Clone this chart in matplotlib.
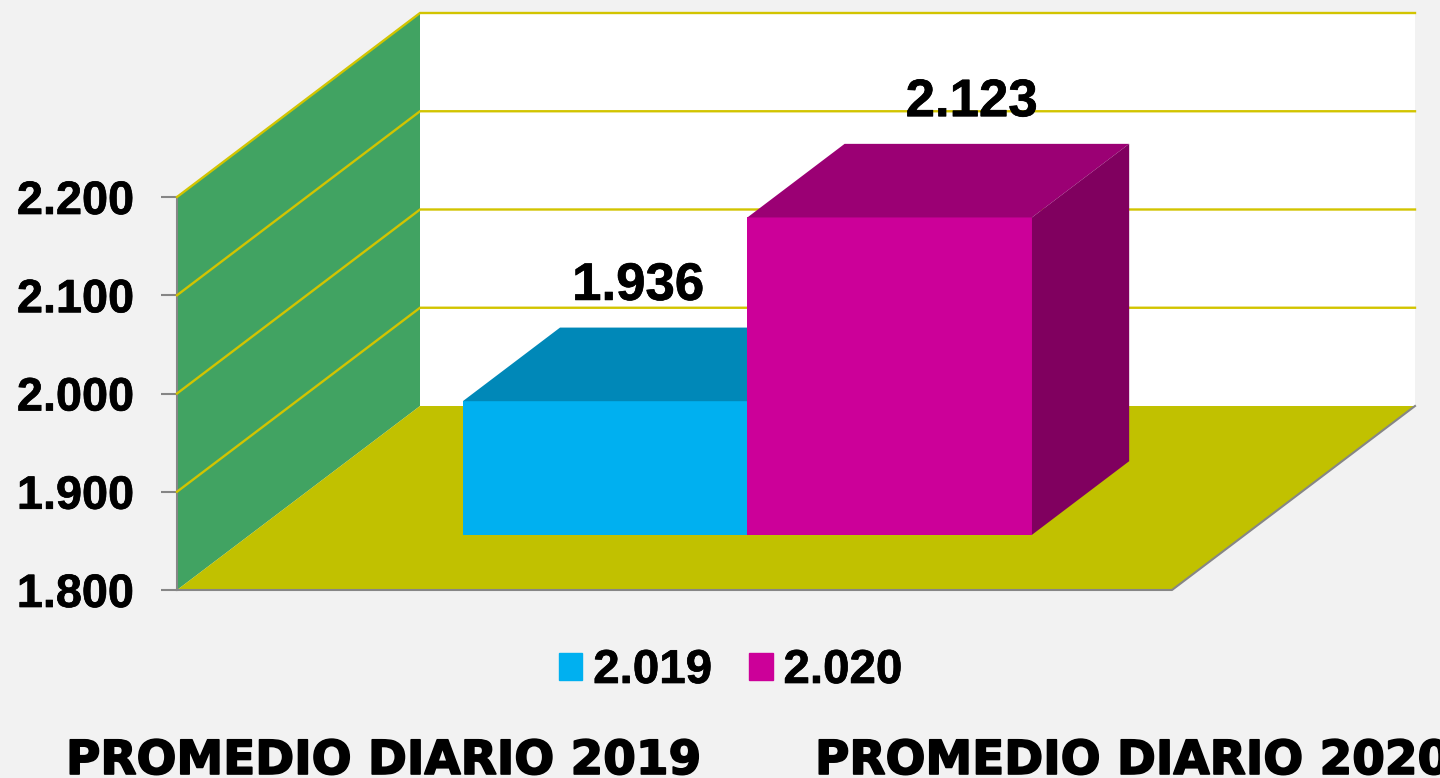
# Promedio diario 2019 vs 2020, barras con aspecto 3D
import matplotlib
matplotlib.use("Agg")
import matplotlib.pyplot as plt
import matplotlib.patheffects as pe
from matplotlib.patches import Polygon, Patch

# Datos
series = ["2.019", "2.020"]
valores = [1936, 2123]
etiquetas = ["1.936", "2.123"]
ticks = [1800, 1900, 2000, 2100, 2200]
ticks_txt = ["1.800", "1.900", "2.000", "2.100", "2.200"]
titulos = ["PROMEDIO DIARIO 2019", "PROMEDIO DIARIO 2020"]

# Colores: frente, tapa, lateral
azul = ("#00B0F0", "#0088B8", "#006E96")
fucsia = ("#CC0099", "#9B0074", "#80005F")
verde = "#41A362"
oliva = "#C1C100"
amarillo = "#D2C400"
gris = "#868686"
fondo = "#F2F2F2"

W, H = 1440, 778
plt.rcParams["font.family"] = ["Liberation Sans", "DejaVu Sans"]
plt.rcParams["font.weight"] = "bold"

fig = plt.figure(figsize=(W / 100, H / 100), dpi=100, facecolor=fondo)
ax = fig.add_axes([177 / W, (H - 590) / H, 995 / W, 393 / H], facecolor="none")
ax.set_xlim(0, 1)
ax.set_ylim(ticks[0], ticks[-1])

# Proyección: profundidad 1 equivale a este desplazamiento en unidades de ejes
dx = 243 / 995
dy = 184 / 393 * (ticks[-1] - ticks[0])


def punto(x, y, d):
    return (x + d * dx, y + d * dy)


def poly(puntos, color, z, **kw):
    ax.add_patch(Polygon(puntos, closed=True, facecolor=color, edgecolor="none",
                         clip_on=False, zorder=z, **kw))


ymin, ymax = ticks[0], ticks[-1]

# Paredes y piso
poly([punto(0, ymin, 1), punto(1, ymin, 1), punto(1, ymax, 1), punto(0, ymax, 1)], "white", 1)
poly([punto(0, ymin, 0), punto(0, ymin, 1), punto(0, ymax, 1), punto(0, ymax, 0)], verde, 1)
poly([punto(0, ymin, 0), punto(1, ymin, 0), punto(1, ymin, 1), punto(0, ymin, 1)], oliva, 2)

# Líneas de división
for t in ticks[1:]:
    xs, ys = zip(punto(0, t, 0), punto(0, t, 1), punto(1, t, 1))
    ax.plot(xs, ys, color=amarillo, lw=1.7, clip_on=False, zorder=3, solid_joinstyle="miter")

# Borde gris del piso
xs, ys = zip(punto(0, ymin, 0), punto(1, ymin, 0), punto(1, ymin, 1))
ax.plot(xs, ys, color=gris, lw=1.5, clip_on=False, zorder=3)

# Barras
gap = 0.214
ancho = 0.286
d0, d1 = 0.3, 0.7
label_dx = [33 / 995, 82 / 995]
colores = [azul, fucsia]
trazo = [pe.withStroke(linewidth=0.5, foreground="black")]
for i, v in enumerate(valores):
    x0 = gap + i * ancho
    x1 = x0 + ancho
    frente, tapa, lado = colores[i]
    z = 4 + i
    poly([punto(x0, ymin, d0), punto(x1, ymin, d0), punto(x1, v, d0), punto(x0, v, d0)], frente, z)
    poly([punto(x0, v, d0), punto(x1, v, d0), punto(x1, v, d1), punto(x0, v, d1)], tapa, z)
    poly([punto(x1, ymin, d0), punto(x1, ymin, d1), punto(x1, v, d1), punto(x1, v, d0)], lado, z)
    lx, ly = punto((x0 + x1) / 2 + label_dx[i], v, d0)
    ax.annotate(etiquetas[i], (lx, ly), xytext=(0, 83), textcoords="offset points",
                ha="center", va="center", fontsize=38, color="black", zorder=10,
                annotation_clip=False, path_effects=trazo)

# Ejes
ax.set_xticks([])
ax.set_yticks(ticks)
ax.set_yticklabels(ticks_txt, fontsize=33.7, color="black", path_effects=trazo,
                   va="center_baseline")
ax.tick_params(axis="y", length=11.5, width=1.5, color=gris, pad=19.5)
for s in ["top", "right", "bottom"]:
    ax.spines[s].set_visible(False)
ax.spines["left"].set_color(gris)
ax.spines["left"].set_linewidth(1.5)

# Leyenda
handles = [Patch(color=azul[0], label=series[0]), Patch(color=fucsia[0], label=series[1])]
ley = fig.legend(handles=handles, loc="center", bbox_to_anchor=(730.5 / W, (H - 671) / H), ncol=2,
                 frameon=False, fontsize=34.2, handlelength=0.5, handleheight=0.5,
                 handletextpad=0.23, columnspacing=0.77, borderpad=0, borderaxespad=0)
for t in ley.get_texts():
    t.set_path_effects(trazo)

# Títulos inferiores
for x_px, titulo in zip([66, 815], titulos):
    fig.text(x_px / W, (H - 774) / H, titulo, fontsize=33.8, family="DejaVu Sans",
             fontweight="bold", ha="left", va="baseline", color="black",
             path_effects=[pe.withStroke(linewidth=1.2, foreground="black")])

fig.savefig("out.png", dpi=100, facecolor=fondo)
